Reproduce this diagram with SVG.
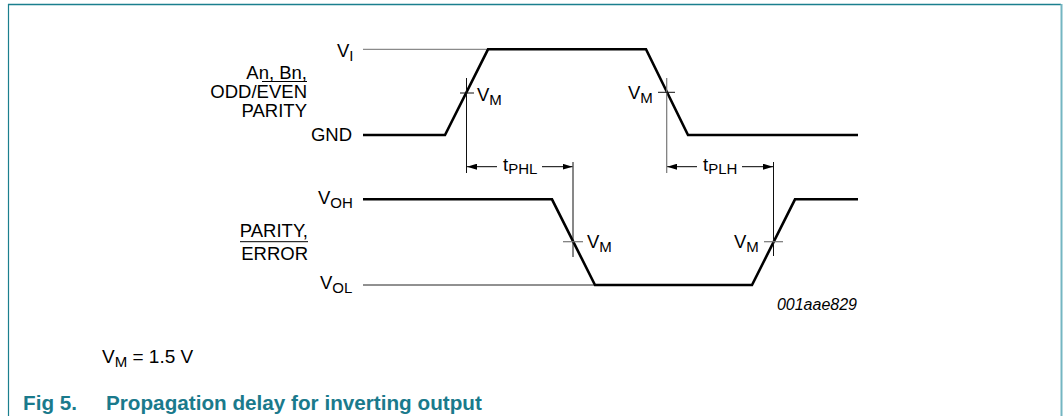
<svg xmlns="http://www.w3.org/2000/svg" width="1063" height="416" viewBox="0 0 1063 416">
<style>
text{font-family:"Liberation Sans",Arial,sans-serif;fill:#000}
.l{font-size:18.5px}
.s{font-size:15px}
.wave{fill:none;stroke:#000;stroke-width:2.6;stroke-linejoin:miter}
.ref{fill:none;stroke:#8a8a8a;stroke-width:1.2}
.refd{fill:none;stroke:#222;stroke-width:1}
.tick{fill:none;stroke:#111;stroke-width:1}
.tickg{fill:none;stroke:#777;stroke-width:1.2}
.arr{fill:none;stroke:#000;stroke-width:1;marker-end:url(#ah)}
.cap{font-size:20.7px;font-weight:bold;fill:#1a7a8c}
</style>
<defs>
<marker id="ah" viewBox="0 0 10 6" refX="10" refY="3" markerWidth="10" markerHeight="6" markerUnits="userSpaceOnUse" orient="auto">
<path d="M0,0 L10,3 L0,6 Z" fill="#000"/>
</marker>
</defs>
<g id="frame">
<line x1="8.5" y1="4" x2="8.5" y2="416" stroke="#1b7f8e" stroke-width="1.2"/>
<line x1="8" y1="4.5" x2="1061" y2="4.5" stroke="#1b7f8e" stroke-width="1.4"/>
<line x1="1061.5" y1="4" x2="1061.5" y2="416" stroke="#74b6c2" stroke-width="2"/>
</g>
<g id="connectors">
<line class="ref" x1="363" y1="49.3" x2="487" y2="49.3"/>
<polyline class="wave" points="363,135 445,135 488,49.3 646,49.3 688,135 858,135"/>
<line class="refd" x1="363" y1="285" x2="594" y2="285"/>
<polyline class="wave" points="363,199.3 552,199.3 595,285 752,285 795,199.3 858,199.3"/>
<line class="tick" x1="466.5" y1="78" x2="466.5" y2="173"/>
<line class="tick" x1="460" y1="93" x2="474" y2="93"/>
<line class="tickg" x1="666.7" y1="78" x2="666.7" y2="173"/>
<line class="tick" x1="658" y1="92.3" x2="675" y2="92.3"/>
<line class="tick" x1="573" y1="162" x2="573" y2="257"/>
<line class="tickg" x1="563" y1="241.7" x2="583" y2="241.7"/>
<line class="tick" x1="773.5" y1="162" x2="773.5" y2="256"/>
<line class="tickg" x1="764" y1="241.7" x2="783" y2="241.7"/>
<line class="arr" x1="497" y1="166.7" x2="467" y2="166.7"/>
<line class="arr" x1="542" y1="166.7" x2="572.5" y2="166.7"/>
<line class="arr" x1="697" y1="166.7" x2="667.2" y2="166.7"/>
<line class="arr" x1="742" y1="166.7" x2="773" y2="166.7"/>
<line stroke="#000" stroke-width="1" x1="262" y1="81.5" x2="307" y2="81.5"/>
<line stroke="#000" stroke-width="1" x1="240" y1="241.7" x2="308" y2="241.7"/>
</g>
<g id="input-labels">
<text class="l" x="337" y="57">V<tspan class="s" dy="4">I</tspan></text>
<text class="l" x="307" y="79" text-anchor="end">An, Bn,</text>
<text class="l" x="307" y="98" text-anchor="end">ODD/EVEN</text>
<text class="l" x="307" y="117" text-anchor="end">PARITY</text>
<text class="l" x="352" y="140.5" text-anchor="end">GND</text>
<text class="l" x="477" y="101">V<tspan class="s" dy="4">M</tspan></text>
<text class="l" x="628" y="99">V<tspan class="s" dy="4">M</tspan></text>
</g>
<g id="timing-labels">
<text class="l" x="503" y="171">t<tspan class="s" dy="3">PHL</tspan></text>
<text class="l" x="703" y="171">t<tspan class="s" dy="3">PLH</tspan></text>
</g>
<g id="output-labels">
<text class="l" x="318" y="204">V<tspan class="s" dy="4">OH</tspan></text>
<text class="l" x="320" y="289">V<tspan class="s" dy="4">OL</tspan></text>
<text class="l" x="308" y="237" text-anchor="end">PARITY,</text>
<text class="l" x="308" y="260" text-anchor="end">ERROR</text>
<text class="l" x="587" y="248">V<tspan class="s" dy="4">M</tspan></text>
<text class="l" x="734" y="248">V<tspan class="s" dy="4">M</tspan></text>
<text x="857" y="310" text-anchor="end" font-size="16" font-style="italic">001aae829</text>
</g>
<g id="caption">
<text x="102" y="363" font-size="19">V<tspan font-size="15" dy="4">M</tspan><tspan dy="-4"> = 1.5 V</tspan></text>
<text class="cap" x="23" y="410">Fig 5.</text>
<text class="cap" x="106" y="410">Propagation delay for inverting output</text>
</g>
</svg>
